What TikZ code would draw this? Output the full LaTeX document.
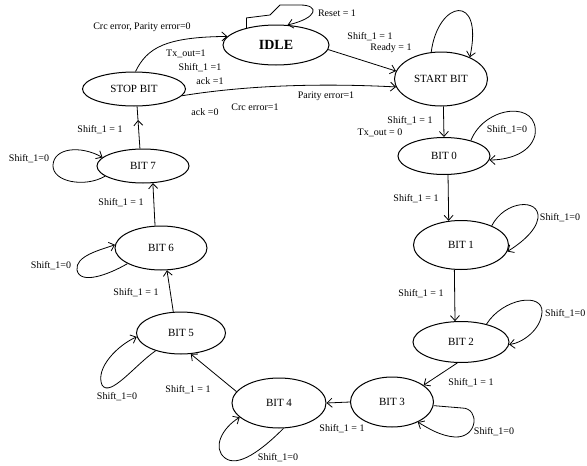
\documentclass[tikz,border=0pt]{standalone}
\usepackage{fontspec}
\setmainfont{Liberation Serif}
\usetikzlibrary{arrows.meta,shapes.geometric}

\begin{document}
\begin{tikzpicture}[x=1pt,y=-1pt,
  bitstate/.style={draw, ellipse, line width=1pt, inner sep=0pt, font=\fontsize{11}{13}\selectfont},
  trans/.style={-{Straight Barb[length=5pt,width=9pt]}, line width=0.8pt},
  lbl/.style={inner sep=0pt, font=\fontsize{10}{12}\selectfont}]
\useasboundingbox (0,0) rectangle (587,466);

\node[bitstate, minimum width=106pt, minimum height=40pt, font=\fontsize{14}{16}\selectfont\bfseries] (idle) at (276,45) {IDLE};
\node[bitstate, minimum width=93pt, minimum height=54pt] (startb) at (441,79) {START BIT};
\node[bitstate, minimum width=103pt, minimum height=34pt] (stopb) at (134,89) {STOP BIT};
\node[bitstate, minimum width=92pt, minimum height=37pt] (bit0) at (444,156) {BIT 0};
\node[bitstate, minimum width=95pt, minimum height=49pt] (bit1) at (461,245) {BIT 1};
\node[bitstate, minimum width=96pt, minimum height=41pt] (bit2) at (461,342) {BIT 2};
\node[bitstate, minimum width=83pt, minimum height=50pt] (bit3) at (392,402) {BIT 3};
\node[bitstate, minimum width=94pt, minimum height=50pt] (bit4) at (279,403) {BIT 4};
\node[bitstate, minimum width=89pt, minimum height=42pt] (bit5) at (181,333) {BIT 5};
\node[bitstate, minimum width=92pt, minimum height=44pt] (bit6) at (161,248) {BIT 6};
\node[bitstate, minimum width=92pt, minimum height=34pt] (bit7) at (143,166) {BIT 7};
\coordinate (mid7) at (138,120);

\draw[trans] (idle.150) -- ++(0,-10) -- (270,15) -- (280,5) -- (300,5) .. controls (320,5) and (318,18) .. (idle.60);
\draw[trans] (idle.-5) -- (startb.170);
\draw[trans] (stopb.85) .. controls (147,48) and (165,37) .. (idle.170);
\draw[trans] (stopb.-8) .. controls (230,88) and (300,82) .. (startb.-170);
\draw[trans] (startb.110) .. controls (438,0) and (484,-8) .. (startb.37);
\draw[trans] (startb.-85) -- (bit0.north);
\draw[trans] (bit0.30) .. controls (485,105) and (540,100) .. (535,135) .. controls (530,155) and (505,160) .. (bit0.-5);
\draw[trans] (bit0.-78) -- (bit1.117);
\draw[trans] (bit1.32) .. controls (505,200) and (540,198) .. (538,218) .. controls (536,232) and (518,245) .. (bit1.-8);
\draw[trans] (bit1.-105) -- (bit2.106);
\draw[trans] (bit2.35) .. controls (503,298) and (543,292) .. (542,312) .. controls (541,330) and (522,343) .. (bit2.-3);
\draw[trans] (bit2.-100) -- (bit3.28);
\draw[trans] (bit3.-5) -- (462,408) .. controls (480,408) and (478,438) .. (455,437) .. controls (440,436) and (428,428) .. (bit3.-38);
\draw[trans] (bit3.west) -- (bit4.east);
\draw[trans] (bit4.-80) .. controls (262,450) and (238,468) .. (225,458) .. controls (212,448) and (222,428) .. (bit4.-160);
\draw[trans] (bit4.165) -- (bit5.-65);
\draw[trans] (bit5.-145) .. controls (135,365) and (110,398) .. (102,385) .. controls (95,368) and (118,345) .. (bit5.-175);
\draw[trans] (bit5.110) -- (bit6.-75);
\draw[trans] (bit6.-155) .. controls (108,275) and (80,285) .. (77,270) .. controls (75,256) and (100,250) .. (bit6.176);
\draw[trans] (bit6.105) -- (bit7.-60);
\draw[trans] (bit7.-165) .. controls (85,188) and (52,182) .. (53,165) .. controls (54,148) and (80,145) .. (bit7.168);
\draw[trans] (bit7.100) -- (mid7);
\draw[line width=0.8pt] (mid7) -- (stopb.-80);

\node[lbl] (lReset) at (337,13) {Reset = 1};
\node[lbl] (lIdleS) at (370,37) {Shift\_1 = 1};
\node[lbl] (lIdleR) at (391,48) {Ready = 1};
\node[lbl] (lStopErr) at (142,27) {Crc error, Parity error=0};
\node[lbl, anchor=west] (lStopTx) at (166,54) {Tx\_out=1};
\node[lbl] (lStopS) at (200,68) {Shift\_1 =1};
\node[lbl] (lStopA) at (210,81) {ack =1};
\node[lbl] (lStopNa) at (205,112) {ack =0};
\node[lbl] (lStopCrc) at (255,107) {Crc error=1};
\node[lbl] (lStopPar) at (326,96) {Parity error=1};
\node[lbl] (lStartS) at (410,121) {Shift\_1 = 1};
\node[lbl] (lStartTx) at (380,133) {Tx\_out = 0};
\node[lbl] (lZeroLoop) at (507,130) {Shift\_1=0};
\node[lbl] (lZeroS) at (416,199) {Shift\_1 = 1};
\node[lbl] (lOneLoop) at (560,218) {Shift\_1=0};
\node[lbl] (lOneS) at (421,294) {Shift\_1 = 1};
\node[lbl, anchor=west] (lTwoLoop) at (545,314) {Shift\_1=0};
\node[lbl] (lTwoS) at (471,383) {Shift\_1 = 1};
\node[lbl] (lThreeLoop) at (494,432) {Shift\_1=0};
\node[lbl] (lThreeS) at (342,429) {Shift\_1 = 1};
\node[lbl] (lFourLoop) at (278,458) {Shift\_1=0};
\node[lbl] (lFourS) at (188,390) {Shift\_1 = 1};
\node[lbl] (lFiveLoop) at (117,397) {Shift\_1=0};
\node[lbl] (lFiveS) at (136,293) {Shift\_1 = 1};
\node[lbl] (lSixLoop) at (51,266) {Shift\_1=0};
\node[lbl] (lSixS) at (121,203) {Shift\_1 = 1};
\node[lbl] (lSevenLoop) at (29,159) {Shift\_1=0};
\node[lbl] (lSevenS) at (100,130) {Shift\_1 = 1};
\end{tikzpicture}
\end{document}
